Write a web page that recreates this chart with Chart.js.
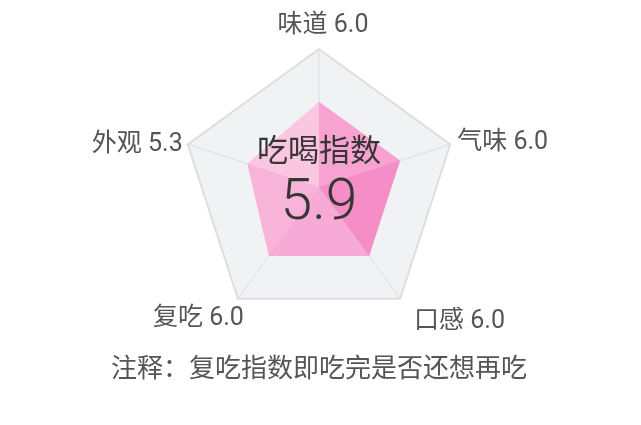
<!DOCTYPE html>
<html>
<head>
<meta charset="utf-8">
<script src="https://cdn.jsdelivr.net/npm/chart.js@4.4.1/dist/chart.umd.min.js"></script>
<style>
  html, body { margin: 0; padding: 0; background: #fff; }
  #wrap { position: relative; width: 641px; height: 425px; }
</style>
</head>
<body>
<div id="wrap"><canvas id="radar"></canvas></div>
<script>
// 数据
const categories = ['味道', '气味', '口感', '复吃', '外观'];
const scores = [6.0, 6.0, 6.0, 6.0, 5.3];
const indexTitle = '吃喝指数';
const indexValue = 5.9;
const noteText = '注释：复吃指数即吃完是否还想再吃';
const scaleMax = 9.7;

// 每个扇面的粉色（从味道开始顺时针）
const facetColors = ['#f7a2d1', '#f58dc7', '#f7aad6', '#f8b3d9', '#fac6e1'];

const FONT = "Roboto, 'Noto Sans CJK SC', sans-serif";

// 粉色多面体效果
function facetFill(context) {
  const chart = context.chart;
  const r = chart.scales.r;
  if (!r || r.xCenter == null) return facetColors[0];
  const g = chart.ctx.createConicGradient(-Math.PI / 2, r.xCenter, r.yCenter);
  const n = facetColors.length;
  facetColors.forEach((c, i) => {
    g.addColorStop(i / n, c);
    g.addColorStop((i + 1) / n - 0.0001, c);
  });
  return g;
}

// 轴标签位置微调（相对于外圈顶点）
const labelPlacement = [
  { align: 'center', dx: 4, dy: -23 },
  { align: 'left', dx: 7, dy: -2 },
  { align: 'left', dx: 14, dy: 23 },
  { align: 'right', dx: 6, dy: 20 },
  { align: 'right', dx: -5, dy: 0 }
];

const radarText = {
  id: 'radarText',
  afterDatasetsDraw(chart) {
    const r = chart.scales.r;
    const ctx = chart.ctx;
    ctx.save();
    ctx.textBaseline = 'middle';

    // 轴标签
    ctx.fillStyle = '#555';
    ctx.font = '25px ' + FONT;
    categories.forEach((cat, i) => {
      const p = r.getPointPositionForValue(i, r.max);
      const pl = labelPlacement[i];
      ctx.textAlign = pl.align;
      ctx.fillText(cat + ' ' + scores[i].toFixed(1), p.x + pl.dx, p.y + pl.dy);
    });

    // 中心文字
    ctx.textAlign = 'center';
    ctx.fillStyle = '#363636';
    ctx.font = '31px ' + FONT;
    ctx.fillText(indexTitle, r.xCenter, r.yCenter - 34);
    ctx.font = '300 57px ' + FONT;
    ctx.fillText(indexValue.toFixed(1), r.xCenter, r.yCenter + 18);
    ctx.restore();
  }
};

new Chart(document.getElementById('radar'), {
  type: 'radar',
  data: {
    labels: categories,
    datasets: [{
      data: scores,
      fill: true,
      backgroundColor: facetFill,
      borderWidth: 0,
      pointRadius: 0,
      pointHoverRadius: 0
    }]
  },
  options: {
    responsive: true,
    maintainAspectRatio: false,
    animation: false,
    events: [],
    layout: { padding: { top: 49, left: 0, right: 3, bottom: 39 } },
    plugins: {
      legend: { display: false },
      tooltip: { enabled: false },
      title: {
        display: true,
        position: 'bottom',
        text: noteText,
        color: '#555',
        font: { family: FONT, size: 26, weight: 'normal', lineHeight: 1.2 },
        padding: { top: 29, bottom: 0 }
      }
    },
    scales: {
      r: {
        min: 0,
        max: scaleMax,
        backgroundColor: '#f0f2f4',
        ticks: { display: false, count: 2 },
        grid: { color: '#dcdfe2', lineWidth: 2 },
        angleLines: { color: '#dcdfe2', lineWidth: 1 },
        pointLabels: { display: false }
      }
    }
  },
  plugins: [radarText]
});
</script>
</body>
</html>
